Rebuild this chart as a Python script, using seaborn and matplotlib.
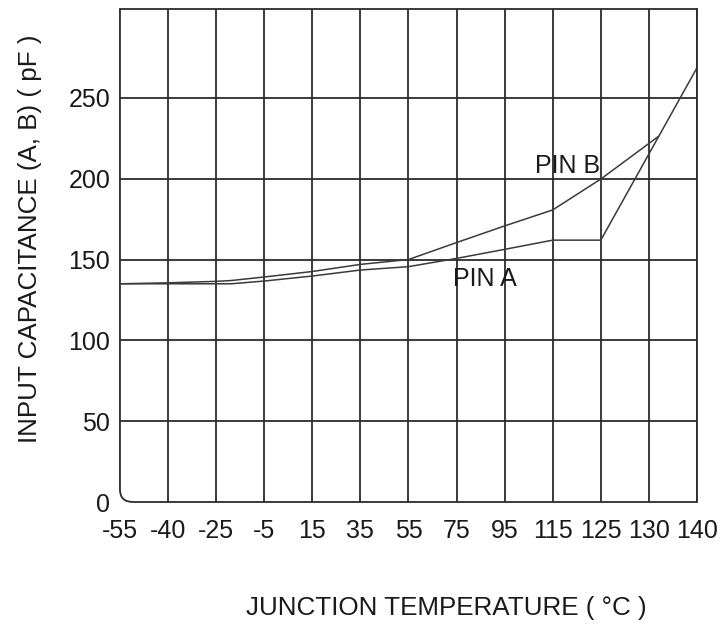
import numpy as np
import pandas as pd
import seaborn as sns
import matplotlib.pyplot as plt
from matplotlib.path import Path
from matplotlib.patches import PathPatch

# x axis is not linear: the ticks are evenly spaced, so positions are tick indices
temp_labels = ['-55', '-40', '-25', '-5', '15', '35', '55', '75', '95',
               '115', '125', '130', '140']

pin_a_pos = [0, 1, 2, 2.31, 3, 4, 5, 6, 7, 8, 9, 10, 12]
pin_a_cap = [135, 135, 135, 135, 136.7, 139.8, 143.5, 145.6, 150.7, 156.3,
             162, 162, 268.6]

pin_b_pos = [0, 1, 2, 2.31, 3, 4, 5, 6, 7, 8, 9, 10, 11.2]
pin_b_cap = [135, 135.6, 136.5, 137, 139.2, 142.6, 147, 150, 160.5, 170.8,
             180.7, 199.8, 226.2]

cap_ticks = [0, 50, 100, 150, 200, 250]

df = pd.concat([
    pd.DataFrame({'pos': pin_a_pos, 'cap': pin_a_cap, 'pin': 'PIN A'}),
    pd.DataFrame({'pos': pin_b_pos, 'cap': pin_b_cap, 'pin': 'PIN B'}),
])

sns.set_style('white')
plt.rcParams['font.family'] = ['Liberation Sans', 'DejaVu Sans']

fig = plt.figure(figsize=(7.27, 6.25), dpi=100)
ax = fig.add_axes([0.165, 0.1968, 0.7937, 0.7888])

sns.lineplot(data=df, x='pos', y='cap', hue='pin',
             palette={'PIN A': '#3a3a3a', 'PIN B': '#3a3a3a'},
             sort=False, estimator=None, linewidth=1.1, legend=False, ax=ax)

ax.set_xlim(0, 12)
ax.set_ylim(0, 305)
ax.set_xticks(range(len(temp_labels)))
ax.set_xticklabels(temp_labels)
ax.set_yticks(cap_ticks)

ax.grid(True, color='#2b2b2b', linewidth=1.3)
ax.xaxis.get_gridlines()[0].set_visible(False)
ax.yaxis.get_gridlines()[0].set_visible(False)
ax.set_axisbelow(True)

ax.tick_params(axis='both', length=0, labelsize=18, colors='#1a1a1a')
ax.tick_params(axis='x', pad=12)
ax.tick_params(axis='y', pad=7)

for side in ['top', 'right']:
    ax.spines[side].set_color('#2b2b2b')
    ax.spines[side].set_linewidth(1.3)
ax.spines['left'].set_visible(False)
ax.spines['bottom'].set_visible(False)

# left and bottom frame with the rounded corner
rx, ry = 0.023, 0.025
corner = Path([(0, 1), (0, ry), (0, 0), (rx, 0), (1, 0)],
              [Path.MOVETO, Path.LINETO, Path.CURVE3, Path.CURVE3, Path.LINETO])
ax.add_patch(PathPatch(corner, transform=ax.transAxes, fill=False,
                       edgecolor='#2b2b2b', linewidth=1.3, clip_on=False))

ax.text(8.63, 203.5, 'PIN B', fontsize=18, color='#1a1a1a')
ax.text(6.92, 133.4, 'PIN A', fontsize=18, color='#1a1a1a')

ax.set_xlabel('JUNCTION TEMPERATURE ( \u00b0C )', fontsize=18.7,
              color='#1a1a1a')
ax.set_ylabel('INPUT CAPACITANCE (A, B) ( pF )', fontsize=18.7,
              color='#1a1a1a')
ax.xaxis.set_label_coords(0.565, -0.19)
ax.yaxis.set_label_coords(-0.135, 0.533)

fig.savefig('out.png', dpi=100)
